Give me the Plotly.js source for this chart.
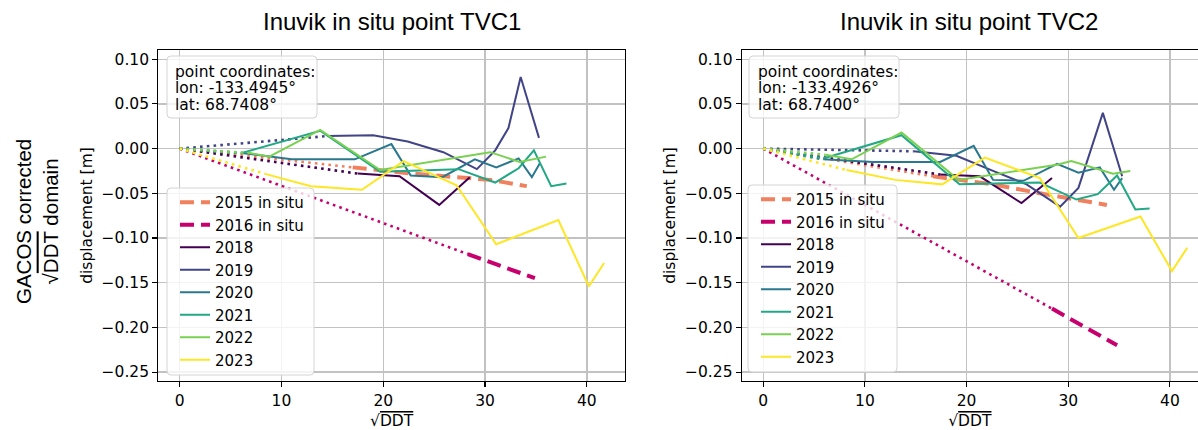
<!DOCTYPE html>
<html><head><meta charset="utf-8">
<script src="https://cdn.plot.ly/plotly-3.0.1.min.js"></script>
<style>html,body{margin:0;padding:0;background:#fff}</style>
</head><body><div id="chart" style="width:1198px;height:430px"></div>
<script>
// ---------- data ----------
const ORIGIN = [0, 0];
const seriesNames = ['2015 in situ', '2016 in situ', '2018', '2019', '2020', '2021', '2022', '2023'];
const seriesColors = ['#f0805e', '#c8006e', '#440154', '#414487', '#2a788e', '#22a884', '#7ad151', '#fde725'];
const xTicks = [0, 10, 20, 30, 40];
const yTicks = [-0.25, -0.20, -0.15, -0.10, -0.05, 0.00, 0.05, 0.10];
const panelTitles = ['Inuvik in situ point TVC1', 'Inuvik in situ point TVC2'];
const coordLines = [['point coordinates:', 'lon: -133.4945°', 'lat: 68.7408°'],
                    ['point coordinates:', 'lon: -133.4926°', 'lat: 68.7400°']];

// TVC1
const tvc1_2015_x = [17.0, 22.9, 30.5, 34.1];
const tvc1_2015_y = [-0.021, -0.028, -0.035, -0.042];
const tvc1_2016_x = [28.3, 34.9];
const tvc1_2016_y = [-0.118, -0.145];
const tvc1_2018_x = [17.5, 21.6, 25.5, 28.5];
const tvc1_2018_y = [-0.028, -0.031, -0.063, -0.032];
const tvc1_2019_x = [14.5, 19.0, 22.4, 25.9, 29.2, 31.0, 32.3, 33.5, 35.3];
const tvc1_2019_y = [0.014, 0.015, 0.008, -0.004, -0.023, -0.002, 0.023, 0.080, 0.012];
const tvc1_2020_x = [6.1, 11.0, 17.2, 20.8, 22.7, 25.8, 29.0, 31.1, 33.3, 34.6, 35.4];
const tvc1_2020_y = [-0.005, -0.012, -0.012, 0.005, -0.030, -0.032, -0.012, -0.021, -0.011, -0.032, -0.016];
const tvc1_2021_x = [6.1, 13.8, 19.7, 27.4, 31.0, 33.3, 34.8, 36.5, 38.0];
const tvc1_2021_y = [-0.005, 0.020, -0.026, -0.023, -0.038, -0.022, -0.002, -0.042, -0.039];
const tvc1_2022_x = [6.9, 8.8, 13.8, 19.7, 30.5, 33.4, 36.0];
const tvc1_2022_y = [-0.005, -0.009, 0.021, -0.024, -0.004, -0.015, -0.009];
const tvc1_2023_x = [8.3, 12.9, 17.9, 22.0, 27.2, 31.1, 37.2, 40.2, 41.7];
const tvc1_2023_y = [-0.028, -0.042, -0.046, -0.014, -0.041, -0.107, -0.080, -0.154, -0.128];

// TVC2
const tvc2_2015_x = [16.7, 22.6, 27.2, 33.8];
const tvc2_2015_y = [-0.031, -0.040, -0.050, -0.063];
const tvc2_2016_x = [28.4, 34.8];
const tvc2_2016_y = [-0.179, -0.220];
const tvc2_2018_x = [17.4, 21.3, 25.4, 28.4];
const tvc2_2018_y = [-0.029, -0.031, -0.061, -0.033];
const tvc2_2019_x = [14.8, 19.0, 22.6, 25.9, 29.2, 31.0, 33.4, 35.3];
const tvc2_2019_y = [-0.003, -0.008, -0.025, -0.040, -0.065, -0.044, 0.040, -0.031];
const tvc2_2020_x = [5.9, 10.8, 17.4, 20.7, 22.6, 25.6, 28.9, 31.0, 33.1, 34.5, 35.3];
const tvc2_2020_y = [-0.012, -0.015, -0.015, 0.003, -0.035, -0.036, -0.017, -0.027, -0.021, -0.046, -0.033];
const tvc2_2021_x = [5.9, 13.6, 19.3, 27.2, 30.8, 32.9, 34.8, 36.6, 38.0];
const tvc2_2021_y = [-0.011, 0.015, -0.040, -0.038, -0.057, -0.051, -0.030, -0.068, -0.067];
const tvc2_2022_x = [6.1, 8.7, 13.6, 19.2, 28.9, 30.3, 34.4, 36.1];
const tvc2_2022_y = [-0.007, -0.012, 0.018, -0.035, -0.018, -0.014, -0.028, -0.025];
const tvc2_2023_x = [8.2, 13.0, 17.6, 21.8, 27.2, 31.0, 37.1, 40.2, 41.7];
const tvc2_2023_y = [-0.024, -0.035, -0.040, -0.010, -0.033, -0.100, -0.076, -0.137, -0.111];

const tvc1 = [[tvc1_2015_x, tvc1_2015_y], [tvc1_2016_x, tvc1_2016_y], [tvc1_2018_x, tvc1_2018_y],
  [tvc1_2019_x, tvc1_2019_y], [tvc1_2020_x, tvc1_2020_y], [tvc1_2021_x, tvc1_2021_y],
  [tvc1_2022_x, tvc1_2022_y], [tvc1_2023_x, tvc1_2023_y]];
const tvc2 = [[tvc2_2015_x, tvc2_2015_y], [tvc2_2016_x, tvc2_2016_y], [tvc2_2018_x, tvc2_2018_y],
  [tvc2_2019_x, tvc2_2019_y], [tvc2_2020_x, tvc2_2020_y], [tvc2_2021_x, tvc2_2021_y],
  [tvc2_2022_x, tvc2_2022_y], [tvc2_2023_x, tvc2_2023_y]];

// ---------- traces ----------
const traces = [];
function addPanel(panel, xa, ya, legendId) {
  panel.forEach(([xs, ys], i) => {
    const inSitu = i < 2;
    traces.push({
      x: [ORIGIN[0], xs[0]], y: [ORIGIN[1], ys[0]], xaxis: xa, yaxis: ya,
      mode: 'lines', line: {color: seriesColors[i], width: 2.6, dash: '2.6px,4.2px'},
      showlegend: false, hoverinfo: 'skip'
    });
    traces.push({
      x: xs, y: ys, xaxis: xa, yaxis: ya, name: seriesNames[i], legend: legendId,
      mode: 'lines',
      line: inSitu ? {color: seriesColors[i], width: 4, dash: '14px,7px'} : {color: seriesColors[i], width: 2}
    });
  });
}
addPanel(tvc1, 'x', 'y', 'legend');
addPanel(tvc2, 'x2', 'y2', 'legend2');

// ---------- layout ----------
const W = 1198, H = 430;
const FONT = 'DejaVu Sans';
const FS = 15.5;
const GRID = {showgrid: true, gridcolor: '#c2c2c2', gridwidth: 1.4};
function xAxis(dom, rng, anchor) {
  return Object.assign({domain: dom, range: rng, anchor: anchor, tickvals: xTicks, ticktext: xTicks.map(String),
    zeroline: false,
    showline: true, linecolor: '#000', linewidth: 1.1, mirror: true,
    ticks: 'outside', ticklen: 5, tickwidth: 1.1, tickcolor: '#000',
    tickfont: {family: FONT, size: FS, color: '#000'},
    title: {text: '√<span style="text-decoration:overline">DDT</span>', font: {family: FONT, size: FS, color: '#000'}, standoff: 9}}, GRID);
}
function yAxis(dom, anchor, mirror) {
  return Object.assign({domain: dom, range: [-0.26, 0.1103], anchor: anchor, tickvals: yTicks, tickformat: '.2f',
    zeroline: false,
    showline: true, linecolor: '#000', linewidth: 1.1, mirror: mirror,
    ticks: 'outside', ticklen: 5, tickwidth: 1.1, tickcolor: '#000',
    tickfont: {family: FONT, size: FS, color: '#000'},
    title: {text: 'displacement [m]', font: {family: FONT, size: FS, color: '#000'}, standoff: 5}}, GRID);
}
const yDom = [(H - 381) / H, (H - 50) / H];
const legendStyle = (x, y) => ({x: x / W, y: 1 - y / H, xanchor: 'left', yanchor: 'top',
  bgcolor: 'rgba(0,0,0,0)', borderwidth: 0,
  font: {family: FONT, size: 15, color: '#000'}, tracegroupgap: 0});

// rounded boxes (pixel-sized, anchored at their centre in paper coords)
function roundBox(x0, y0, x1, y1) {
  const w = (x1 - x0) / 2, h = (y1 - y0) / 2, r = 4;
  const p = `M ${-w + r},${-h} H ${w - r} Q ${w},${-h} ${w},${-h + r} V ${h - r} Q ${w},${h} ${w - r},${h} ` +
            `H ${-w + r} Q ${-w},${h} ${-w},${h - r} V ${-h + r} Q ${-w},${-h} ${-w + r},${-h} Z`;
  return {type: 'path', xref: 'paper', yref: 'paper', xsizemode: 'pixel', ysizemode: 'pixel',
    xanchor: ((x0 + x1) / 2) / W, yanchor: 1 - ((y0 + y1) / 2) / H, path: p, layer: 'above',
    fillcolor: 'rgba(255,255,255,0.8)', line: {color: '#d4d4d4', width: 1}};
}

const annotations = [
  {text: panelTitles[0], xref: 'paper', yref: 'paper', x: 391.7 / W, y: 1 - 22 / H, xanchor: 'center', yanchor: 'middle',
   showarrow: false, font: {family: 'Liberation Sans', size: 24, color: '#000'}},
  {text: panelTitles[1], xref: 'paper', yref: 'paper', x: 969 / W, y: 1 - 22 / H, xanchor: 'center', yanchor: 'middle',
   showarrow: false, font: {family: 'Liberation Sans', size: 24, color: '#000'}},
  {text: 'GACOS corrected<br>√<span style="text-decoration:overline">DDT</span> domain', xref: 'paper', yref: 'paper',
   x: 37 / W, y: 1 - 222 / H, xanchor: 'center', yanchor: 'middle', textangle: -90, showarrow: false,
   font: {family: 'Liberation Sans', size: 20.5, color: '#000'}}
];
const coordX = [173, 756];
const coordY = [71.5, 88.5, 105];
coordLines.forEach((lines, p) => {
  lines.forEach((t, k) => annotations.push({text: t, xref: 'paper', yref: 'paper', x: coordX[p] / W, y: 1 - coordY[k] / H,
    xanchor: 'left', yanchor: 'middle', showarrow: false, font: {family: FONT, size: FS, color: '#000'}}));
});

const layout = {
  width: W, height: H, margin: {l: 0, r: 0, t: 0, b: 0},
  paper_bgcolor: '#fff', plot_bgcolor: '#fff',
  font: {family: FONT, size: FS, color: '#000'},
  xaxis: xAxis([158.3 / W, 625 / W], [-2.1, 43.75], 'y'),
  yaxis: yAxis(yDom, 'x', true),
  xaxis2: xAxis([741.7 / W, 1], [-2.12, 42.76], 'y2'),
  yaxis2: yAxis(yDom, 'x2', false),
  legend: legendStyle(175, 186),
  legend2: legendStyle(756, 183),
  shapes: [roundBox(167, 56, 317, 118), roundBox(749, 56, 899, 118),
           roundBox(167, 188, 314, 375), roundBox(748, 185, 897, 372)],
  annotations: annotations
};

Plotly.newPlot('chart', traces, layout, {staticPlot: true, displayModeBar: false});
</script>
</body></html>
